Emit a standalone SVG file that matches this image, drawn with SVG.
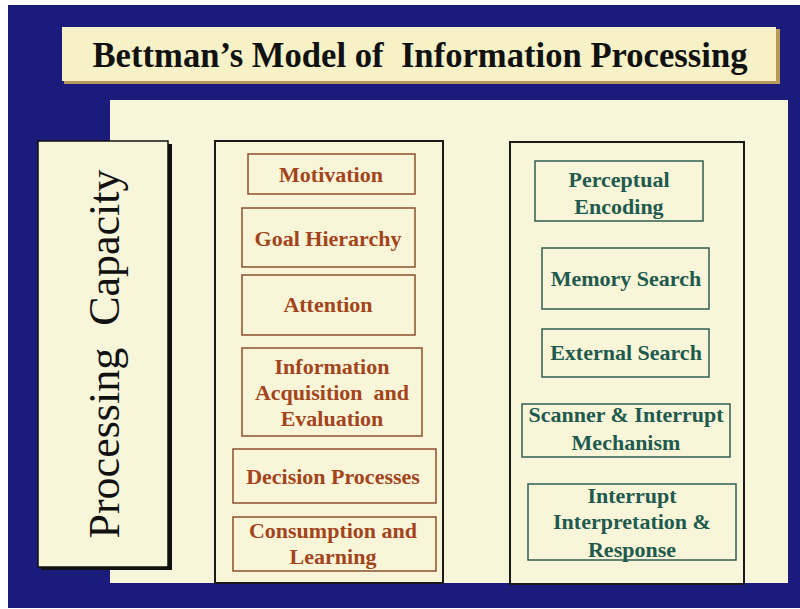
<svg xmlns="http://www.w3.org/2000/svg" width="800" height="609" viewBox="0 0 800 609">
<style>
.t{font-family:"Liberation Serif","Times New Roman",serif;font-weight:bold;font-size:22px;text-anchor:middle}
.br{fill:#a3441c}
.tl{fill:#1f5a4e}
.bb{fill:#f8f5d8;stroke:#8e4f2b;stroke-width:1.5}
.tb{fill:#f8f5d8;stroke:#2f5e55;stroke-width:1.5}
.col{fill:#f8f5d8;stroke:#1a1a1a;stroke-width:2}
</style>
<rect x="0" y="0" width="800" height="609" fill="#ffffff"/>
<rect x="8" y="5" width="792" height="603" fill="#1b1b7c"/>
<g id="title">
<rect x="64" y="29" width="716" height="55" fill="#b89a5a"/>
<rect x="62" y="27" width="714" height="54" fill="#f6f1c6"/>
<text xml:space="preserve" x="420" y="67" font-family="'Liberation Serif','Times New Roman',serif" font-weight="bold" font-size="36" text-anchor="middle" textLength="655" lengthAdjust="spacingAndGlyphs" fill="#111111">Bettman’s Model of  Information Processing</text>
</g>
<rect x="110" y="100" width="678" height="483" fill="#f8f6da"/>
<g id="processing-capacity">
<rect x="41" y="144" width="131" height="426" fill="#111111"/>
<rect x="38" y="141" width="130" height="426" fill="#f8f6da" stroke="#111111" stroke-width="1.5"/>
<text xml:space="preserve" transform="translate(119,354) rotate(-90)" font-family="'Liberation Serif','Times New Roman',serif" font-size="44" text-anchor="middle" fill="#111111">Processing  Capacity</text>
</g>
<g id="left-column">
<rect class="col" x="215" y="141" width="228" height="442"/>
</g>
<g id="right-column">
<rect class="col" x="510" y="142" width="234" height="442"/>
</g>
<g id="motivation"><rect class="bb" x="248" y="154" width="167" height="40"/><text class="t br" x="331" y="182">Motivation</text></g>
<g id="goal-hierarchy"><rect class="bb" x="242" y="208" width="173" height="59"/><text class="t br" x="328" y="246">Goal Hierarchy</text></g>
<g id="attention"><rect class="bb" x="242" y="275" width="173" height="60"/><text class="t br" x="328" y="312">Attention</text></g>
<g id="info-acq"><rect class="bb" x="242" y="348" width="180" height="88"/><text class="t br" x="332" y="374">Information</text><text xml:space="preserve" class="t br" x="332" y="400">Acquisition  and</text><text class="t br" x="332" y="426">Evaluation</text></g>
<g id="decision"><rect class="bb" x="233" y="449" width="203" height="54"/><text class="t br" x="333" y="484">Decision Processes</text></g>
<g id="consumption"><rect class="bb" x="233" y="517" width="203" height="54"/><text class="t br" x="333" y="538">Consumption and</text><text class="t br" x="333" y="564">Learning</text></g>
<g id="perceptual"><rect class="tb" x="535" y="161" width="168" height="60"/><text class="t tl" x="619" y="187">Perceptual</text><text class="t tl" x="619" y="214">Encoding</text></g>
<g id="memory"><rect class="tb" x="542" y="248" width="167" height="61"/><text class="t tl" x="626" y="286">Memory Search</text></g>
<g id="external"><rect class="tb" x="542" y="329" width="167" height="48"/><text class="t tl" x="626" y="360">External Search</text></g>
<g id="scanner"><rect class="tb" x="522" y="404" width="208" height="53"/><text class="t tl" x="626" y="422">Scanner &amp; Interrupt</text><text class="t tl" x="626" y="450">Mechanism</text></g>
<g id="interrupt"><rect class="tb" x="528" y="484" width="208" height="76"/><text class="t tl" x="632" y="503">Interrupt</text><text class="t tl" x="632" y="529">Interpretation &amp;</text><text class="t tl" x="632" y="557">Response</text></g>
<g id="connectors"></g>
</svg>
